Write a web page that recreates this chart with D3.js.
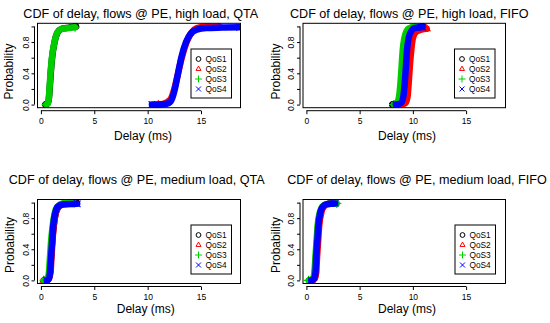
<!DOCTYPE html>
<html>
<head>
<meta charset="utf-8">
<script src="https://cdn.jsdelivr.net/npm/d3@7"></script>
<style>
  body { margin: 0; background: #fff; }
  svg { display: block; font-family: "Liberation Sans", Arial, Helvetica, sans-serif; }
</style>
</head>
<body>
<svg width="550" height="323"></svg>
<script>
// Panel titles, series and ticks
const panelTitles = [
    "CDF of delay, flows @ PE, high load, QTA",
    "CDF of delay, flows @ PE, high load, FIFO",
    "CDF of delay, flows @ PE, medium load, QTA",
    "CDF of delay, flows @ PE, medium load, FIFO"
];
const seriesNames = ["QoS1", "QoS2", "QoS3", "QoS4"];
const xTicks = [0, 5, 10, 15];
const yTicks = [0, 0.2, 0.4, 0.6, 0.8, 1.0];
const yLabelled = [0, 0.4, 0.8];

// CDF points: [delay (ms), probability]
const highQTA = [
    [[0.45, 0], [0.6, 0.01], [0.72, 0.05], [0.82, 0.2], [0.92, 0.4], [1.05, 0.6], [1.28, 0.8], [1.55, 0.92], [1.95, 0.97], [2.6, 0.985], [3.25, 1.0]],
    [[11.0, 0], [11.8, 0.03], [12.2, 0.08], [12.5, 0.2], [12.85, 0.4], [13.2, 0.6], [13.65, 0.8], [14.1, 0.92], [14.6, 0.98], [15.5, 1.0], [16.7, 1.0]],
    [[0.5, 0], [0.62, 0.01], [0.72, 0.05], [0.8, 0.2], [0.9, 0.4], [1.03, 0.6], [1.27, 0.8], [1.58, 0.93], [2.0, 0.97], [2.6, 0.98], [3.2, 0.99]],
    [[10.4, 0], [11.5, 0.005], [12.0, 0.02], [12.3, 0.08], [12.55, 0.2], [12.85, 0.4], [13.15, 0.6], [13.6, 0.8], [14.0, 0.9], [14.6, 0.96], [15.5, 0.98], [17.0, 0.985], [18.6, 0.99]]
];
const highFIFO = [
    [[8.1, 0], [8.5, 0.02], [8.8, 0.1], [9.0, 0.3], [9.2, 0.5], [9.35, 0.7], [9.55, 0.88], [9.9, 0.96], [10.4, 0.99], [10.9, 1.0]],
    [[8.9, 0], [9.3, 0.02], [9.5, 0.1], [9.62, 0.3], [9.72, 0.5], [9.85, 0.7], [10.0, 0.85], [10.3, 0.93], [10.8, 0.96], [11.3, 0.97]],
    [[8.2, 0], [8.5, 0.02], [8.7, 0.1], [8.85, 0.3], [8.95, 0.5], [9.05, 0.7], [9.2, 0.85], [9.4, 0.94], [9.7, 0.98], [10.2, 1.0]],
    [[8.4, 0], [8.9, 0.02], [9.1, 0.1], [9.25, 0.3], [9.35, 0.5], [9.45, 0.7], [9.6, 0.85], [9.85, 0.94], [10.2, 0.98], [10.9, 0.99]]
];
const mediumQTA = [
    [[0.4, 0], [0.7, 0.02], [0.85, 0.1], [0.95, 0.3], [1.05, 0.5], [1.2, 0.7], [1.4, 0.87], [1.7, 0.95], [2.2, 0.99], [3.3, 1.0]],
    [[0.25, 0], [0.72, 0.02], [0.9, 0.1], [0.99, 0.3], [1.08, 0.5], [1.2, 0.7], [1.4, 0.87], [1.68, 0.95], [2.2, 0.98], [3.2, 0.99]],
    [[0.3, 0], [0.6, 0.02], [0.75, 0.1], [0.85, 0.3], [0.95, 0.5], [1.1, 0.7], [1.3, 0.87], [1.55, 0.95], [2.0, 0.99], [3.0, 1.0]],
    [[0.55, 0], [0.75, 0.02], [0.85, 0.1], [0.95, 0.3], [1.05, 0.5], [1.15, 0.7], [1.35, 0.87], [1.6, 0.95], [2.0, 0.975], [3.4, 0.985]]
];
const mediumFIFO = [
    [[0.4, 0], [0.65, 0.02], [0.8, 0.1], [0.9, 0.3], [1.0, 0.5], [1.1, 0.7], [1.3, 0.87], [1.55, 0.95], [1.9, 0.98], [2.6, 1.0]],
    [[0.5, 0], [0.78, 0.02], [0.92, 0.1], [1.0, 0.3], [1.1, 0.5], [1.2, 0.7], [1.4, 0.87], [1.65, 0.95], [2.0, 0.98], [2.7, 0.99]],
    [[0.2, 0], [0.6, 0.02], [0.75, 0.1], [0.85, 0.3], [0.95, 0.5], [1.05, 0.7], [1.25, 0.87], [1.5, 0.95], [1.9, 0.98], [2.85, 0.99]],
    [[0.45, 0], [0.7, 0.02], [0.85, 0.1], [0.92, 0.3], [1.02, 0.5], [1.12, 0.7], [1.3, 0.87], [1.55, 0.95], [1.9, 0.98], [2.7, 0.99]]
];
const panelData = [highQTA, highFIFO, mediumQTA, mediumFIFO];

// Styling (R default palette and point shapes)
const colors = ["#000000", "#FF0000", "#00CD00", "#0000FF"];
const shapes = [d3.symbolCircle, d3.symbolTriangle2, d3.symbolPlus, d3.symbolTimes];

const layout = [
    { x0: 37.5, x1: 240.5, y0: 23.3, y1: 107.7, tx: 140.8, ty: 17.5, lx: 143, ly: 140.3, px: 13, py: 71.5, legX: 191, legY: 49 },
    { x0: 303, x1: 505.5, y0: 23.3, y1: 107.7, tx: 409.3, ty: 17.5, lx: 407, ly: 140.3, px: 279.5, py: 71.5, legX: 454.5, legY: 49 },
    { x0: 37.5, x1: 240.5, y0: 199.5, y1: 283.5, tx: 136.7, ty: 184, lx: 145.8, ly: 312.6, px: 13.5, py: 245, legX: 191, legY: 225 },
    { x0: 303, x1: 505.5, y0: 199.5, y1: 283.5, tx: 417, ty: 184, lx: 407, ly: 312.6, px: 280, py: 245, legX: 455, legY: 225 }
];

const svg = d3.select("svg");
svg.append("rect").attr("width", 550).attr("height", 323).attr("fill", "#fff");

const symbolPath = (i, size) => d3.symbol().type(shapes[i]).size(size)();

layout.forEach((L, p) => {
    const g = svg.append("g");

    const x = d3.scaleLinear().domain([-0.32, 18.7]).range([L.x0, L.x1]);
    const y = d3.scaleLinear().domain([-0.04, 1.04]).range([L.y1, L.y0]);

    // clip to plot region
    const clipId = "clip" + p;
    g.append("clipPath").attr("id", clipId)
        .append("rect")
        .attr("x", L.x0).attr("y", L.y0)
        .attr("width", L.x1 - L.x0).attr("height", L.y1 - L.y0);

    const plot = g.append("g").attr("clip-path", `url(#${clipId})`);

    const line = d3.line()
        .x(d => x(d[0]))
        .y(d => y(d[1]))
        .curve(d3.curveMonotoneX);

    panelData[p].forEach((pts, i) => {
        plot.append("path")
            .attr("d", line(pts))
            .attr("fill", "none")
            .attr("stroke", colors[i])
            .attr("stroke-width", 6.5)
            .attr("stroke-linecap", "round")
            .attr("stroke-linejoin", "round");

        // point marks at both ends of each CDF
        const ends = [pts[0], pts[pts.length - 1]];
        plot.selectAll(null)
            .data(ends)
            .enter().append("path")
            .attr("transform", d => `translate(${x(d[0])},${y(d[1])})`)
            .attr("d", symbolPath(i, 30))
            .attr("fill", "none")
            .attr("stroke", colors[i])
            .attr("stroke-width", 1.2);
    });

    // box
    g.append("rect")
        .attr("x", L.x0).attr("y", L.y0)
        .attr("width", L.x1 - L.x0).attr("height", L.y1 - L.y0)
        .attr("fill", "none").attr("stroke", "#000").attr("stroke-width", 1);

    // x axis
    const xAxis = g.append("g")
        .attr("transform", `translate(0,${L.y1 + 3})`)
        .call(d3.axisBottom(x).tickValues(xTicks).tickSize(3.5).tickPadding(4).tickFormat(d3.format("d")));
    xAxis.select(".domain").remove();
    xAxis.append("line")
        .attr("x1", x(xTicks[0])).attr("x2", x(xTicks[xTicks.length - 1]))
        .attr("stroke", "#000");
    xAxis.selectAll("text").attr("fill", "#000").attr("font-size", 8.5).attr("font-family", null);

    // y axis
    const yAxis = g.append("g")
        .attr("transform", `translate(${L.x0 - 3},0)`)
        .call(d3.axisLeft(y).tickValues(yTicks).tickSize(3)
            .tickFormat(d => yLabelled.includes(d) ? d3.format(".1f")(d) : ""));
    yAxis.select(".domain").remove();
    yAxis.append("line")
        .attr("y1", y(yTicks[0])).attr("y2", y(yTicks[yTicks.length - 1]))
        .attr("stroke", "#000");
    yAxis.selectAll("text")
        .attr("fill", "#000").attr("font-size", 8.5).attr("font-family", null)
        .attr("x", 0).attr("y", -6).attr("dy", 0)
        .attr("text-anchor", "middle")
        .attr("transform", "rotate(-90)");

    // titles
    g.append("text")
        .attr("x", L.tx).attr("y", L.ty)
        .attr("text-anchor", "middle")
        .attr("font-size", 12.6)
        .text(panelTitles[p]);

    g.append("text")
        .attr("x", L.lx).attr("y", L.ly)
        .attr("text-anchor", "middle")
        .attr("font-size", 12)
        .text("Delay (ms)");

    g.append("text")
        .attr("transform", `translate(${L.px},${L.py}) rotate(-90)`)
        .attr("text-anchor", "middle")
        .attr("font-size", 12)
        .text("Probability");

    // legend
    const leg = g.append("g").attr("transform", `translate(${L.legX},${L.legY})`);
    leg.append("rect")
        .attr("width", 40.5).attr("height", 49)
        .attr("fill", "#fff").attr("stroke", "#000").attr("stroke-width", 1);

    seriesNames.forEach((name, i) => {
        leg.append("path")
            .attr("transform", `translate(7.5,${10 + i * 10})`)
            .attr("d", symbolPath(i, 18))
            .attr("fill", "none")
            .attr("stroke", colors[i])
            .attr("stroke-width", 1);
        leg.append("text")
            .attr("x", 14.5).attr("y", 13 + i * 10)
            .attr("font-size", 8.3)
            .text(name);
    });
});
</script>
</body>
</html>
